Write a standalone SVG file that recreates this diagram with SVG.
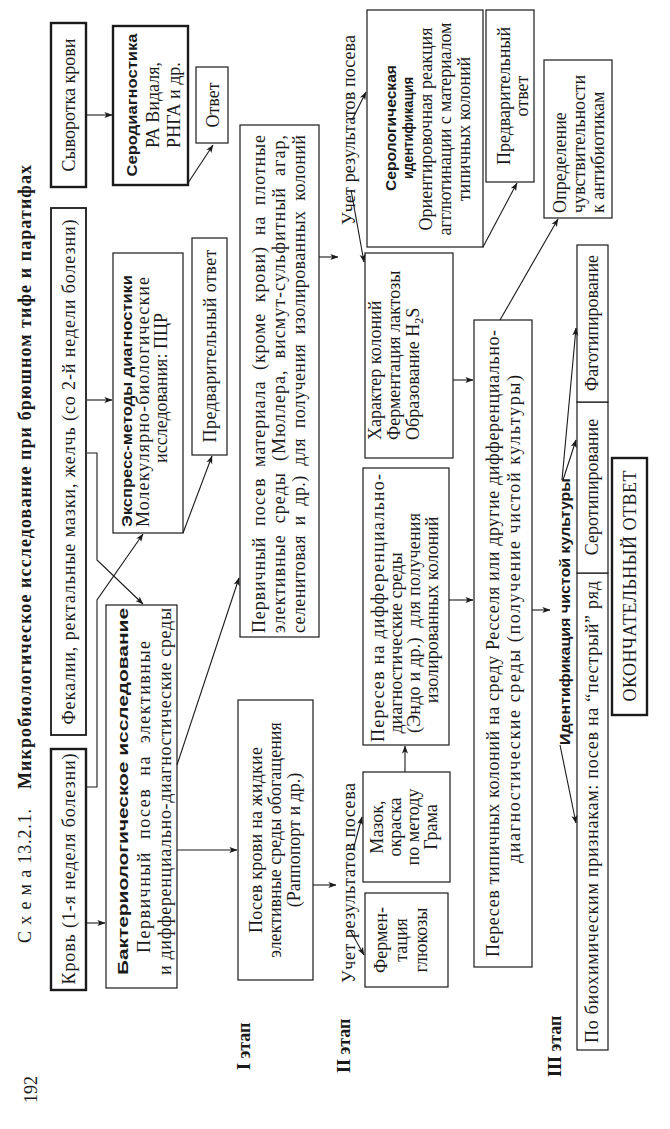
<svg xmlns="http://www.w3.org/2000/svg" width="670" height="1129" viewBox="0 0 670 1129">
<defs>
<marker id="ah" viewBox="0 0 10 10" refX="9.5" refY="5" markerWidth="8" markerHeight="8" orient="auto" markerUnits="userSpaceOnUse"><path d="M0,1.2 L10,5 L0,8.8 L2.5,5 z" fill="#1a1a1a"/></marker>
</defs>
<style>
.box{fill:#fff;stroke:#1a1a1a;stroke-width:1.2}
.thick{stroke-width:2.4}
.mid{stroke-width:1.8}
.t{font-family:"Liberation Serif","Times New Roman",serif;font-size:18px;fill:#1a1a1a}
.c{text-anchor:middle}
.b{font-family:"Liberation Sans Narrow","Liberation Sans",sans-serif;font-weight:bold;font-size:15px;fill:#1a1a1a}
.tb{font-weight:bold}
.ln{fill:none;stroke:#1a1a1a;stroke-width:1.1;marker-end:url(#ah)}
</style>
<rect width="670" height="1129" fill="#fff"/>
<g transform="translate(0,1129) rotate(-90)">
<g id="title">
<text class="t" x="186" y="31" font-size="18" textLength="134">С х е м а  13.2.1.</text>
<text class="t tb" x="340" y="31" font-size="20" textLength="624">Микробиологическое исследование при брюшном тифе и паратифах</text>
<text class="t" x="26" y="37" font-size="17">192</text>
</g>
<g id="stages">
<text class="t tb" x="59" y="250" font-size="16">I этап</text>
<text class="t tb" x="56" y="350" font-size="16">II этап</text>
<text class="t tb" x="52" y="561" font-size="16">III этап</text>
</g>
<g id="n_syvorotka"><rect class="box thick" x="942" y="51" width="164" height="35"/><text class="t c" x="1024" y="75">Сыворотка крови</text></g>
<g id="n_serodiag"><rect class="box thick" x="944" y="113" width="159" height="75"/>
<text class="b c" x="1024" y="137" textLength="143" lengthAdjust="spacingAndGlyphs">Серодиагностика</text>
<text class="t c" x="1024" y="159">РА Видаля,</text>
<text class="t c" x="1024" y="180">РНГА и др.</text></g>
<g id="n_otvet"><rect class="box" x="986" y="196" width="76" height="32"/><text class="t c" x="1024" y="219">Ответ</text></g>
<g id="n_fekalii"><rect class="box mid" x="394" y="51" width="527" height="35"/><text class="t c" x="657" y="75" textLength="505">Фекалии,  ректальные  мазки,  желчь  (со  2-й  недели  болезни)</text></g>
<g id="n_krov"><rect class="box thick" x="139" y="51" width="241" height="35"/><text class="t c" x="260" y="75" textLength="231">Кровь (1-я неделя болезни)</text></g>
<g id="n_express"><rect class="box" x="596" y="113" width="280" height="70"/>
<text class="b" x="602" y="132" textLength="252" lengthAdjust="spacingAndGlyphs">Экспресс-методы диагностики</text>
<text class="t" x="602" y="149" textLength="250">Молекулярно-биологические</text>
<text class="t c" x="741" y="167">исследования: ПЦР</text></g>
<g id="n_pred1"><rect class="box" x="674" y="192" width="217" height="35"/><text class="t c" x="783" y="216" textLength="193">Предварительный ответ</text></g>
<g id="n_bakt"><rect class="box" x="141" y="106" width="383" height="71"/>
<text class="b" x="154" y="128" textLength="367" lengthAdjust="spacingAndGlyphs">Бактериологическое исследование</text>
<text class="t" x="176" y="150" textLength="312" style="white-space:pre">Первичный  посев  на  элективные</text>
<text class="t" x="154" y="171" textLength="367">и дифференциально-диагностические среды</text></g>
<g id="n_posev_krovi"><rect class="box" x="149" y="238" width="280" height="75"/>
<text class="t c" x="289" y="262" textLength="186">Посев крови на жидкие</text>
<text class="t c" x="289" y="281">элективные среды обогащения</text>
<text class="t c" x="289" y="300">(Раппопорт и др.)</text></g>
<g id="n_pervichny"><rect class="box" x="492" y="240" width="512" height="79"/>
<text class="t" x="496" y="265" textLength="498" style="white-space:pre">Первичный  посев  материала  (кроме  крови)  на  плотные</text>
<text class="t" x="496" y="285" textLength="498" style="white-space:pre">элективные  среды  (Мюллера,  висмут-сульфитный  агар,</text>
<text class="t" x="496" y="305" textLength="498" style="white-space:pre">селенитовая  и  др.)  для  получения  изолированных  колоний</text></g>
<g id="n_uchet1"><text class="t" x="904" y="355" textLength="190">Учет результатов посева</text></g>
<g id="n_serol"><rect class="box" x="882" y="367" width="237" height="116"/>
<text class="b c" x="1001" y="396" textLength="126" lengthAdjust="spacingAndGlyphs">Серологическая</text>
<text class="b c" x="1001" y="413" textLength="102" lengthAdjust="spacingAndGlyphs">идентификация</text>
<text class="t c" x="1000" y="432" textLength="203">Ориентировочная реакция</text>
<text class="t c" x="1000" y="451" textLength="213">агглютинации с материалом</text>
<text class="t c" x="1000" y="470">типичных колоний</text></g>
<g id="n_pred2"><rect class="box" x="947" y="486" width="172" height="48"/>
<text class="t c" x="1033" y="510">Предварительный</text>
<text class="t c" x="1033" y="528">ответ</text></g>
<g id="n_harakter"><rect class="box" x="671" y="365" width="205" height="88"/>
<text class="t" x="689" y="381">Характер колоний</text>
<text class="t" x="689" y="400">Ферментация лактозы</text>
<text class="t" x="689" y="419">Образование H<tspan font-size="12" dy="4">2</tspan><tspan dy="-4">S</tspan></text></g>
<g id="n_diff"><rect class="box" x="384" y="363" width="277" height="86"/>
<text class="t" x="387" y="384" textLength="268">Пересев на дифференциально-</text>
<text class="t c" x="486" y="402">диагностические среды</text>
<text class="t c" x="506" y="420" textLength="220" style="white-space:pre">(Эндо и др.)  для получения</text>
<text class="t c" x="519" y="438">изолированных колоний</text></g>
<g id="n_mazok"><rect class="box" x="247" y="363" width="110" height="87"/>
<text class="t c" x="302" y="383">Мазок,</text>
<text class="t c" x="302" y="401">окраска</text>
<text class="t c" x="302" y="419">по методу</text>
<text class="t c" x="302" y="437">Грама</text></g>
<g id="n_ferment"><rect class="box" x="142" y="365" width="94" height="83"/>
<text class="t c" x="189" y="387">Фермен-</text>
<text class="t c" x="189" y="407">тация</text>
<text class="t c" x="189" y="427">глюкозы</text></g>
<g id="n_uchet2"><text class="t" x="146" y="355" textLength="200">Учет результатов посева</text></g>
<g id="n_tipichn"><rect class="box" x="162" y="474" width="647" height="58"/>
<text class="t" x="172" y="499" textLength="627">Пересев типичных колоний на среду Ресселя или другие дифференциально-</text>
<text class="t c" x="510" y="520" textLength="488">диагностические среды (получение чистой культуры)</text></g>
<g id="n_ident"><text class="b" x="384" y="570" textLength="267" lengthAdjust="spacingAndGlyphs">Идентификация чистой культуры</text></g>
<g id="n_bio"><rect class="box" x="79" y="577" width="477" height="31"/><text class="t" x="86" y="598" textLength="462">По биохимическим признакам: посев на “пестрый” ряд</text></g>
<g id="n_serotip"><rect class="box" x="556" y="577" width="171" height="31"/><text class="t c" x="642" y="598">Серотипирование</text></g>
<g id="n_fagotip"><rect class="box" x="727" y="577" width="157" height="31"/><text class="t c" x="806" y="598">Фаготипирование</text></g>
<g id="n_final"><rect class="box thick" x="414" y="612" width="257" height="35"/><text class="t c" x="543" y="636" textLength="231">ОКОНЧАТЕЛЬНЫЙ ОТВЕТ</text></g>
<g id="n_opred"><rect class="box" x="911" y="544" width="158" height="68"/>
<text class="t" x="916" y="566">Определение</text>
<text class="t" x="916" y="585">чувствительности</text>
<text class="t" x="916" y="604">к антибиотикам</text></g>
<g id="connectors">
<path class="ln" d="M1014,87 L1014,112"/>
<path class="ln" d="M946,188 L984,213"/>
<path class="ln" d="M729,87 L729,112"/>
<path class="ln" d="M676,87 L676,97 L569,97 L525,143"/>
<path class="ln" d="M342,86 L342,97 L529,97 L595,143"/>
<path class="ln" d="M206,86 L206,105"/>
<path class="ln" d="M596,183 L673,212"/>
<path class="ln" d="M364,177 L551,239"/>
<path class="ln" d="M279,177 L279,237"/>
<path class="ln" d="M872,319 L872,338"/>
<path class="ln" d="M939,351 L867,364"/>
<path class="ln" d="M1009,352 L1037,366"/>
<path class="ln" d="M244,313 L244,336"/>
<path class="ln" d="M199,350 L174,364"/>
<path class="ln" d="M279,353 L312,362"/>
<path class="ln" d="M357,405 L383,405"/>
<path class="ln" d="M749,453 L749,473"/>
<path class="ln" d="M529,449 L529,473"/>
<path class="ln" d="M882,483 L946,517"/>
<path class="ln" d="M809,500 L910,558"/>
<path class="ln" d="M519,532 L519,550"/>
<path class="ln" d="M649,563 L689,576"/>
<path class="ln" d="M649,562 L801,576"/>
<path class="ln" d="M384,560 L306,576"/>
</g>
</g>
</svg>
